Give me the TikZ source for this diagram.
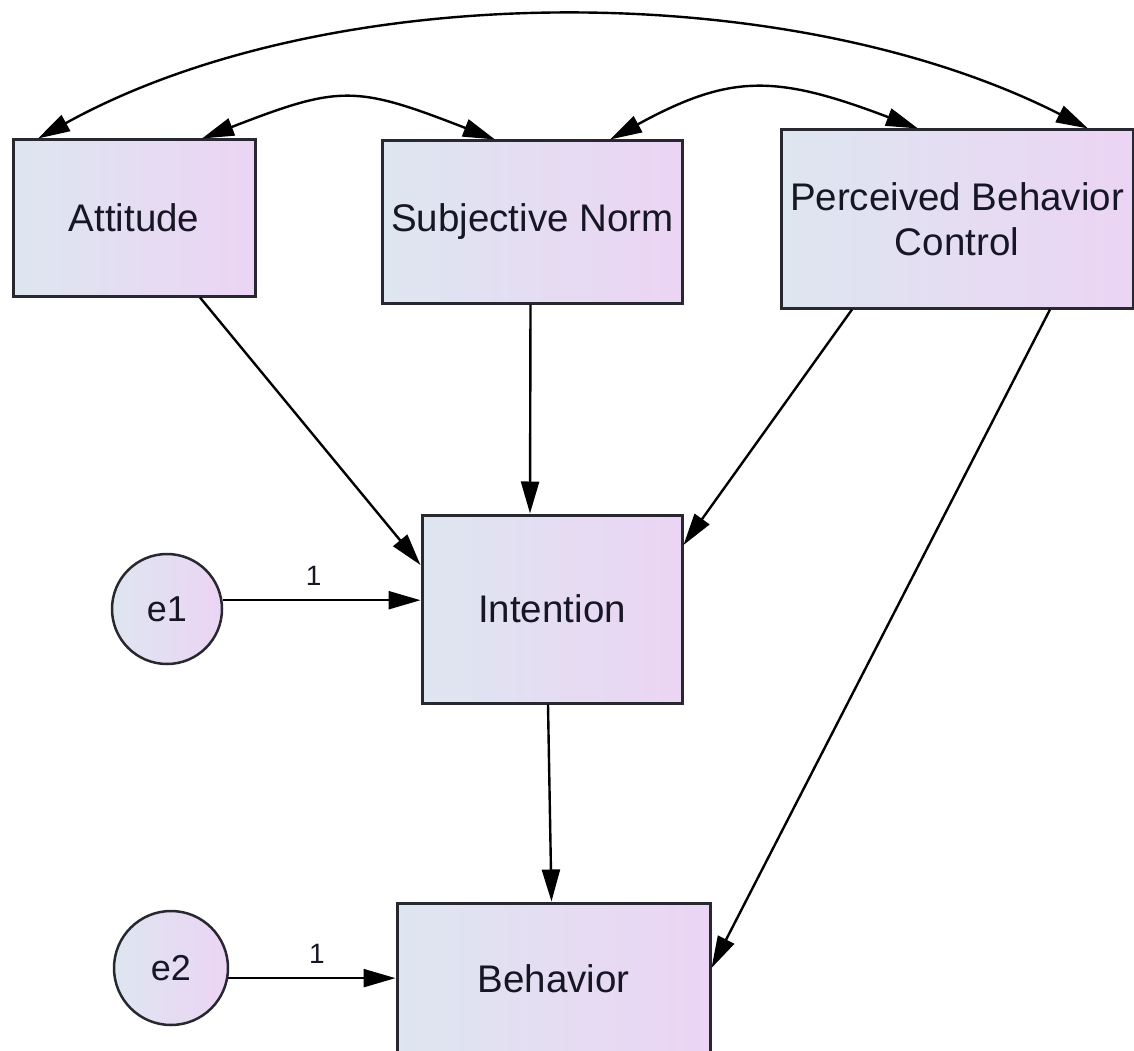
\documentclass[tikz,border=0pt]{standalone}
\usepackage{fontspec}
\setmainfont{Liberation Sans}
\usetikzlibrary{arrows.meta}
\definecolor{fillL}{RGB}{222,230,240}
\definecolor{fillR}{RGB}{236,212,244}
\definecolor{edge}{RGB}{40,40,48}
\definecolor{txt}{RGB}{22,22,36}
\tikzset{
  varbox/.style={draw=edge, line width=3pt, left color=fillL, right color=fillR,
    text=txt, font=\fontsize{38.5}{45}\selectfont, align=center, inner sep=0pt},
  errc/.style={circle, draw=edge, line width=2.5pt, left color=fillL, right color=fillR,
    text=txt, font=\fontsize{36}{40}\selectfont, inner sep=0pt},
  conn/.style={line width=2.4pt, draw=black, -{Triangle[length=32pt,width=18pt]}},
  biconn/.style={line width=2.4pt, draw=black, {Triangle[length=32pt,width=18pt]}-{Triangle[length=32pt,width=18pt]}},
  wlabel/.style={text=txt, font=\fontsize{28}{30}\selectfont, inner sep=0pt}
}
\begin{document}
\begin{tikzpicture}[x=1pt,y=-1pt]
\useasboundingbox (0,0) rectangle (1134,1051);
\fill[white] (0,0) rectangle (1134,1051);
\clip (0,0) rectangle (1134,1051);
% nodes
\node[varbox, minimum width=242pt, minimum height=156pt] (att) at (134,218) {Attitude};
\node[varbox, minimum width=300pt, minimum height=162pt] (sn) at (532.5,222) {Subjective Norm};
\node[varbox, minimum width=352pt, minimum height=178pt] (pbc) at (957,219) {Perceived Behavior\\Control};
\node[varbox, minimum width=260pt, minimum height=188pt] (int) at (552,609) {Intention};
\node[varbox, minimum width=313pt, minimum height=152pt] (beh) at (553.5,979) {Behavior};
\node[errc, minimum size=110pt] (e1) at (167,609) {e1};
\node[errc, minimum size=114pt] (e2) at (171,968) {e2};
% covariances
\draw[biconn] ([xshift=-96pt]att.north) .. controls (330,-23) and (790,-23) .. ([xshift=131pt]pbc.north);
\draw[biconn] ([xshift=68pt]att.north) .. controls (340,85) and (355,85) .. ([xshift=-37.5pt]sn.north);
\draw[biconn] ([xshift=77.5pt]sn.north) .. controls (730,74) and (775,74) .. ([xshift=-39pt]pbc.north);
% paths
\draw[conn] ([xshift=66pt]att.south) -- ([yshift=44pt]int.west);
\draw[conn] ([xshift=-2pt]sn.south) -- ([xshift=-22pt]int.north);
\draw[conn] ([xshift=-105pt]pbc.south) -- ([yshift=64pt]int.east);
\draw[conn] ([xshift=93pt]pbc.south) -- ([yshift=11pt]beh.east);
\draw[conn] ([xshift=-4pt]int.south) -- ([xshift=-2pt]beh.north);
\draw[conn] (e1.9) -- (e1.9 -| int.west) node[wlabel, pos=0.46, above=14pt] (l1) {1};
\draw[conn] (e2.-10) -- (e2.-10 -| beh.west) node[wlabel, pos=0.53, above=13pt] (l2) {1};
\end{tikzpicture}
\end{document}
